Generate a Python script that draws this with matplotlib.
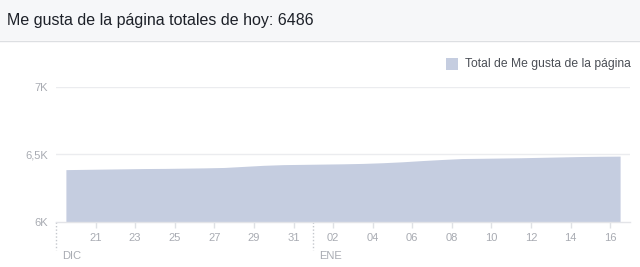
import matplotlib
matplotlib.use('Agg')

import numpy as np
import matplotlib.pyplot as plt
from matplotlib.patches import Rectangle

plt.rcParams['font.family'] = ['Liberation Sans', 'DejaVu Sans']

# daily totals, day offset from 21 Dec (points sit at mid-day)
days = [-1.5, -0.5, 0.5, 1.5, 2.5, 3.5, 4.5, 5.5, 6.5, 7.5, 8.5, 9.5, 10.5, 11.5,
        12.5, 13.5, 14.5, 15.5, 16.5, 17.5, 18.5, 19.5, 20.5, 21.5, 22.5, 23.5,
        24.5, 25.5, 26.5]
likes = [6388, 6390, 6392, 6394, 6396, 6397, 6399, 6401, 6404, 6412, 6420, 6425,
         6427, 6429, 6431, 6434, 6439, 6446, 6455, 6463, 6470, 6472, 6474, 6476,
         6479, 6482, 6485, 6487, 6488]

tick_pos = [0, 2, 4, 6, 8, 10, 12, 14, 16, 18, 20, 22, 24, 26]
tick_labels = ['21', '23', '25', '27', '29', '31', '02', '04', '06', '08', '10', '12', '14', '16']
months = ['DIC', 'ENE']
month_pos = [-2, 11]

y_ticks = [6000, 6500, 7000]
y_labels = ['6K', '6,5K', '7K']

title = 'Me gusta de la página totales de hoy: 6486'
legend_label = 'Total de Me gusta de la página'

area_color = '#c5cde0'
grid_color = '#ebecef'
label_color = '#a8abb2'

W, H = 640, 267
fig = plt.figure(figsize=(W / 100, H / 100), dpi=100)
fig.patch.set_facecolor('white')

# header bar
fig.patches.append(Rectangle((0, 1 - 40 / H), 1, 40 / H, transform=fig.transFigure,
                             facecolor='#f6f7f9', edgecolor='none'))
fig.lines.append(plt.Line2D([0, 1], [1 - 40.5 / H, 1 - 40.5 / H], transform=fig.transFigure,
                            color='#dddfe2', lw=1))
fig.text(7 / W, 1 - 20 / H, title, fontsize=11.5, color='#1d2129', va='center', ha='left')

# main axes
left, right, top, bottom = 56, 630, 87, 222
ax = fig.add_axes([left / W, 1 - bottom / H, (right - left) / W, (bottom - top) / H])
ax.fill_between(days, 6000, likes, color=area_color, lw=0)
ax.set_xlim(-2, 27)
ax.set_ylim(6000, 7000)

for s in ['top', 'right', 'left']:
    ax.spines[s].set_visible(False)
ax.spines['bottom'].set_color('#e3e4e8')
ax.spines['bottom'].set_linewidth(1)

ax.set_yticks(y_ticks)
ax.set_yticklabels(y_labels)
for yv in y_ticks[1:]:
    ax.axhline(yv, color=grid_color, lw=1, zorder=0)
ax.tick_params(axis='y', length=0, pad=6, labelsize=8, labelcolor=label_color)

ax.set_xticks(tick_pos)
ax.set_xticklabels(tick_labels)
ax.tick_params(axis='x', length=4, width=1, color='#dfe1e5', pad=4,
               labelsize=8, labelcolor=label_color)

# month separators
for m, p in zip(months, month_pos):
    ax.plot([p, p], [0, -0.21], transform=ax.get_xaxis_transform(), clip_on=False,
            color='#c4c7cc', lw=1, ls=(0, (1, 1.5)))
    ax.text(p + 0.3, -0.25, m, transform=ax.get_xaxis_transform(), fontsize=8,
            color=label_color, ha='left', va='center')

# legend
fig.patches.append(Rectangle((446 / W, 1 - 70 / H), 12 / W, 12 / H, transform=fig.transFigure,
                             facecolor=area_color, edgecolor='none'))
fig.text(465 / W, 1 - 64 / H, legend_label, fontsize=8.7, color='#4b4f56',
         va='center', ha='left')

fig.savefig('out.png', dpi=100)
